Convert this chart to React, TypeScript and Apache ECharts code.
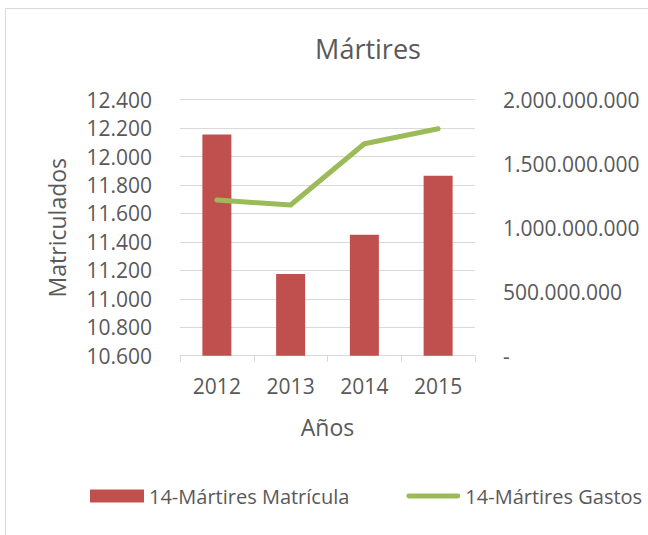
import React, { useEffect, useRef } from "react";
import * as echarts from "echarts";

const years = ["2012", "2013", "2014", "2015"];
const matricula = [12155, 11175, 11450, 11865];
const gastos = [1216000000, 1177000000, 1656000000, 1773000000];
const leftTicks = { min: 10600, max: 12400, interval: 200 };
const rightTicks = { min: 0, max: 2000000000, interval: 500000000 };

const FONT = "'Open Sans', 'Noto Sans', sans-serif";
const TXT = "#595959";
const BAR_COLOR = "#C0504D";
const LINE_COLOR = "#9BBB59";

const fmt = (v: number) => String(Math.round(v)).replace(/\B(?=(\d{3})+(?!\d))/g, ".");

export default function App() {
  const ref = useRef<HTMLDivElement>(null);
  useEffect(() => {
    if (!ref.current) return;
    const chart = echarts.init(ref.current, null, { renderer: "svg" });
    chart.setOption({
      animation: false,
      backgroundColor: "#ffffff",
      textStyle: { fontFamily: FONT, color: TXT },
      graphic: [
        {
          type: "rect",
          shape: { x: 5.5, y: 8.5, width: 700, height: 600 },
          style: { fill: "none", stroke: "#D9D9D9", lineWidth: 1 },
          silent: true,
          z: -10,
        },
      ],
      title: {
        text: "Mártires",
        left: 363,
        top: 30,
        textAlign: "center",
        textStyle: { fontFamily: FONT, fontSize: 27, fontWeight: "normal", color: TXT },
      },
      legend: {
        left: 90,
        top: 486,
        width: 640,
        padding: 0,
        itemGap: 57,
        itemWidth: 54,
        itemHeight: 13,
        textStyle: { fontFamily: FONT, fontSize: 20, color: TXT },
        data: [
          { name: "14-Mártires Matrícula", icon: "rect", itemStyle: { color: BAR_COLOR } },
          {
            name: "14-Mártires Gastos",
            icon: "path://M0,0h0.01v0.01h-0.01zM2.5,4h50a2.5,2.5,0,0,1,0,5h-50a2.5,2.5,0,0,1,0,-5zM0,13h0.01v0.01h-0.01z",
            itemStyle: { color: LINE_COLOR, borderWidth: 0 },
          },
        ],
      },
      grid: { left: 180, right: 173, top: 99.7, bottom: 179.3, containLabel: false },
      xAxis: {
        type: "category",
        data: years,
        name: "Años",
        nameLocation: "middle",
        nameGap: 60,
        nameTextStyle: { fontFamily: FONT, fontSize: 23, color: TXT },
        axisLine: { lineStyle: { color: "#D9D9D9", width: 1 } },
        axisTick: { show: true, length: 6, lineStyle: { color: "#D9D9D9" } },
        axisLabel: { fontFamily: FONT, fontSize: 21, color: TXT, margin: 20 },
      },
      yAxis: [
        {
          type: "value",
          min: leftTicks.min,
          max: leftTicks.max,
          interval: leftTicks.interval,
          name: "Matriculados",
          nameLocation: "middle",
          nameGap: 112,
          nameRotate: 90,
          nameTextStyle: { fontFamily: FONT, fontSize: 23, color: TXT },
          axisLine: { show: false },
          axisTick: { show: false },
          splitLine: { lineStyle: { color: "#D9D9D9", width: 1 } },
          axisLabel: { fontFamily: FONT, fontSize: 21, color: TXT, margin: 28, formatter: (v: number) => fmt(v) },
        },
        {
          type: "value",
          min: rightTicks.min,
          max: rightTicks.max,
          interval: rightTicks.interval,
          position: "right",
          axisLine: { show: false },
          axisTick: { show: false },
          splitLine: { show: false },
          axisLabel: {
            fontFamily: FONT,
            fontSize: 21,
            color: TXT,
            margin: 28,
            formatter: (v: number) => (v === 0 ? "-" : fmt(v)),
          },
        },
      ],
      series: [
        {
          name: "14-Mártires Matrícula",
          type: "bar",
          yAxisIndex: 0,
          data: matricula,
          barWidth: 29,
          itemStyle: { color: BAR_COLOR },
        },
        {
          name: "14-Mártires Gastos",
          type: "line",
          yAxisIndex: 1,
          data: gastos,
          symbol: "none",
          lineStyle: { color: LINE_COLOR, width: 5, cap: "round", join: "round" },
          itemStyle: { color: LINE_COLOR },
        },
      ],
    });
    return () => chart.dispose();
  }, []);
  return (
    <div
      ref={ref}
      style={{ position: "fixed", left: 0, top: 0, width: 648, height: 535 }}
    />
  );
}
